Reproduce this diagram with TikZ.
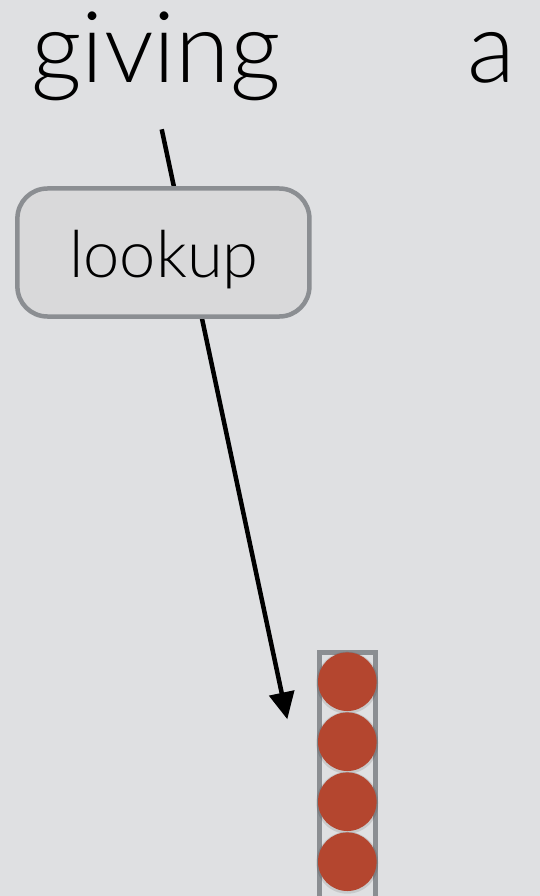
\documentclass[tikz,border=0pt]{standalone}
\usepackage{fontspec}
\setmainfont{Lato Light}
\usetikzlibrary{arrows.meta}
\definecolor{bg}{HTML}{DFE0E2}
\definecolor{boxfill}{HTML}{D9D9DA}
\definecolor{boxline}{HTML}{8B8E92}
\definecolor{dot}{HTML}{B4462F}
\tikzset{
  word/.style={anchor=base,inner sep=0pt,font=\fontsize{99}{99}\selectfont},
  opbox/.style={draw=boxline,fill=boxfill,line width=4.5pt,rounded corners=30pt,
    minimum width=292pt,minimum height=128pt,inner sep=0pt},
  optext/.style={anchor=base,inner sep=0pt,font=\fontsize{65}{65}\selectfont},
  conn/.style={line width=4.5pt,-{Triangle[length=27pt,width=25pt]}},
  vecbox/.style={draw=boxline,line width=4.5pt,minimum width=56pt,minimum height=260pt,inner sep=0pt,anchor=north},
  unit/.style={circle,fill=dot,minimum size=58.6pt,inner sep=0pt},
  unitshadow/.style={circle,fill=black,opacity=0.10,minimum size=62pt,inner sep=0pt}
}
\begin{document}
\begin{tikzpicture}[x=1pt,y=-1pt]
\useasboundingbox[fill=bg] (0,0) rectangle (540,896);
\node[word] (giving) at (156,83) {giving};
\node[word] (a) at (491,83) {a};
\coordinate (s) at (161.7,129.3);
\coordinate (t) at (287.3,719.3);
\draw[conn] (s) -- (t);
\node[opbox] (lookup) at (163.4,252.5) {};
\node[optext] (lookuptext) at (164,277) {lookup};
\node[vecbox] (vec) at (347.7,650.3) {};
\foreach \i/\y in {1/681.7,2/741.7,3/801.7,4/861.7}{
  \node[unitshadow] (sh\i) at (347.3,\y+1) {};
}
\foreach \i/\y in {1/681.7,2/741.7,3/801.7,4/861.7}{
  \node[unit] (u\i) at (347.3,\y) {};
}
\end{tikzpicture}
\end{document}
